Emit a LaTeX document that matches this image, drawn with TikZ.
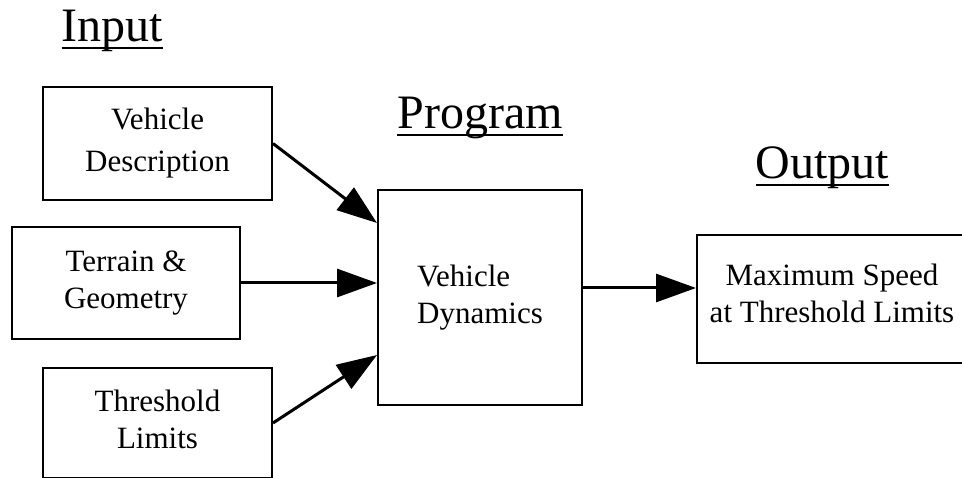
\documentclass[tikz,border=0pt]{standalone}
\usepackage{fontspec}
\setmainfont{Liberation Serif}
\usetikzlibrary{arrows.meta,calc}
\begin{document}
\begin{tikzpicture}[x=1pt,y=-1pt,
  box/.style={draw,line width=2pt,rectangle,inner sep=0pt,align=center,
    font=\fontsize{31}{37}\selectfont},
  title/.style={inner sep=0pt,anchor=base,font=\fontsize{48}{52}\selectfont},
  uline/.style={line width=2pt},
  arr/.style={line width=3pt,-{Triangle[length=40pt,width=28pt]}}]
\useasboundingbox (0,0) rectangle (962,478);
\clip (0,0) rectangle (962,478);
% titles
\node[title] (tin) at (112.5,42) {Input};
\node[title] (tprog) at (480,129) {Program};
\node[title] (tout) at (822.5,179) {Output};
\foreach \t in {tin,tprog,tout}
  \draw[uline] ([yshift=-6.5pt]\t.base west) -- ([yshift=-6.5pt]\t.base east);
% boxes
\node[box,minimum width=229pt,minimum height=113pt,
  font=\fontsize{31}{42}\selectfont] (vd) at (157.5,143.5) {Vehicle\\Description};
\node[box,minimum width=228pt,minimum height=112pt] (tg) at (126,283) {Terrain \&\\Geometry};
\node[box,minimum width=229pt,minimum height=110pt,text depth=7pt] (th) at (157.5,423) {Threshold\\Limits};
\node[box,minimum width=204pt,minimum height=215pt,align=left] (prog) at (480,297.5) {Vehicle\\Dynamics};
\node[box,minimum width=270pt,minimum height=128pt,text depth=11pt] (out) at (832,299) {Maximum Speed\\at Threshold Limits};
% connectors
\draw[arr] (vd.east) -- ([yshift=74.5pt]prog.west);
\draw[arr] (tg.east) -- (tg.east -| prog.west);
\draw[arr] (th.east) -- ([yshift=-57.5pt]prog.west);
\draw[arr] ([yshift=9.5pt]prog.east) -- ([yshift=9.5pt]prog.east -| out.west);
\end{tikzpicture}
\end{document}
